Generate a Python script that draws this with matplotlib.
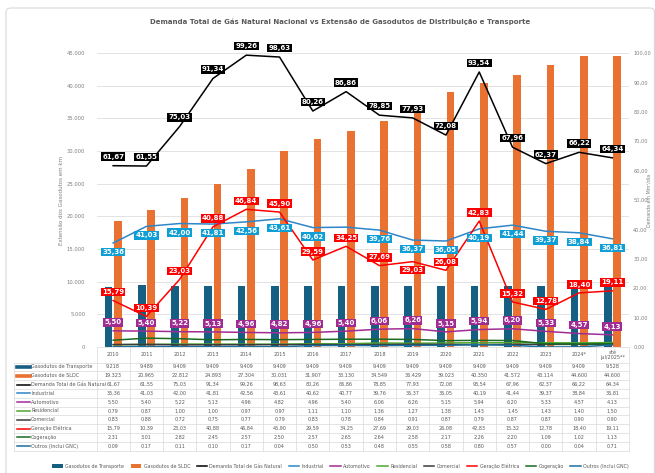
import matplotlib
matplotlib.use("Agg")
import matplotlib.pyplot as plt
from matplotlib.lines import Line2D
from matplotlib.patches import FancyBboxPatch
from matplotlib.ticker import FuncFormatter
import numpy as np

plt.rcParams["font.family"] = ["Liberation Sans Narrow", "DejaVu Sans"]

categories = ["2010", "2011", "2012", "2013", "2014", "2015", "2016", "2017",
              "2018", "2019", "2020", "2021", "2022", "2023", "2024*",
              "até\njul/2025**"]

gasodutos_transporte = [9218, 9489, 9409, 9409, 9409, 9409, 9409, 9409,
                        9409, 9409, 9409, 9409, 9409, 9409, 9409, 9528]
gasodutos_distribuicao = [19323, 20965, 22812, 24893, 27304, 30031, 31907, 33130,
                          34549, 36429, 39023, 40350, 41572, 43114, 44600, 44600]
demanda_total = [61.67, 61.55, 75.03, 91.34, 99.26, 98.63, 80.26, 86.86,
                 78.85, 77.93, 72.08, 93.54, 67.96, 62.37, 66.22, 64.34]
industrial = [35.36, 41.03, 42.00, 41.81, 42.56, 43.61, 40.62, 40.77,
              39.76, 36.37, 36.05, 40.19, 41.44, 39.37, 38.84, 36.81]
automotivo = [5.50, 5.40, 5.22, 5.13, 4.96, 4.82, 4.96, 5.40,
              6.06, 6.26, 5.15, 5.94, 6.20, 5.33, 4.57, 4.13]
residencial = [0.79, 0.87, 1.00, 1.00, 0.97, 0.97, 1.11, 1.10,
               1.36, 1.27, 1.38, 1.43, 1.45, 1.43, 1.40, 1.50]
comercial = [0.83, 0.88, 0.72, 0.75, 0.77, 0.79, 0.83, 0.78,
             0.84, 0.91, 0.87, 0.79, 0.87, 0.87, 0.90, 0.90]
geracao_eletrica = [15.79, 10.39, 23.03, 40.88, 46.84, 45.90, 29.59, 34.25,
                    27.69, 29.03, 26.08, 42.83, 15.32, 12.78, 18.40, 19.11]
cogeracao = [2.31, 3.01, 2.82, 2.45, 2.57, 2.50, 2.57, 2.65,
             2.64, 2.58, 2.17, 2.26, 2.20, 1.09, 1.02, 1.13]
outros = [0.09, 0.17, 0.11, 0.10, 0.17, 0.04, 0.50, 0.53,
          0.48, 0.55, 0.58, 0.80, 0.57, 0.00, 0.04, 0.71]

C_TRANSP = "#156082"
C_DIST = "#E97132"
C_IND_LINE = "#2E86C8"
C_IND_LBL = "#0F9ED5"
C_AUTO = "#A02B93"
C_RES = "#4EA72E"
C_COM = "#3A3A3A"
C_GER = "#FF0000"
C_COG = "#196B24"
C_OUT = "#1C6E9C"
GRAY = "#7F7F7F"

W, H = 655, 473
fig = plt.figure(figsize=(W / 100, H / 100), dpi=100)

# outer chart border
fig.patches.append(FancyBboxPatch((6 / W, -0.05), 0.99, 1 - 8 / H + 0.05,
                                  boxstyle="round,pad=0,rounding_size=0.008",
                                  transform=fig.transFigure, fc="white",
                                  ec="#D9D9D9", lw=0.8, zorder=0))

ax_left, ax_right = 96.5 / W, 629 / W
ax_bot, ax_top = 1 - 347 / H, 1 - 53 / H
ax = fig.add_axes([ax_left, ax_bot, ax_right - ax_left, ax_top - ax_bot])
ax2 = ax.twinx()
ax.set_zorder(1)
ax2.set_zorder(2)
ax.patch.set_visible(False)
ax2.patch.set_visible(False)

x = np.arange(len(categories))
bw = 0.23
ax.bar(x - 0.14, gasodutos_transporte, bw, color=C_TRANSP, zorder=2,
       label="Gasodutos de Transporte")
ax.bar(x + 0.14, gasodutos_distribuicao, bw, color=C_DIST, zorder=2,
       label="Gasodutos de SLDC")

ax.set_xlim(-0.5, len(categories) - 0.5)
ax.set_ylim(0, 45000)
ax.set_yticks(np.arange(0, 45001, 5000))
ax.yaxis.set_major_formatter(FuncFormatter(lambda v, p: f"{int(v):,}".replace(",", ".")))
ax.grid(axis="y", color="#E3E3E3", lw=0.7, zorder=0)
ax.set_xticks([])
for s in ax.spines.values():
    s.set_visible(False)
for s in ax2.spines.values():
    s.set_visible(False)
ax.tick_params(axis="y", length=0, labelsize=3.8, labelcolor=GRAY, pad=8)
ax.set_ylabel("Extensão dos Gasodutos em km", fontsize=4, color=GRAY, labelpad=2)

ax2.set_ylim(0, 100)
ax2.set_yticks(np.arange(0, 101, 10))
ax2.yaxis.set_major_formatter(FuncFormatter(lambda v, p: f"{v:.2f}".replace(".", ",")))
ax2.tick_params(axis="y", length=0, labelsize=3.6, labelcolor=GRAY, pad=3)
ax2.set_ylabel("Demanda em Mm³/dia", fontsize=3.4, color=GRAY, rotation=90, va="center")
ax2.yaxis.set_label_coords((649 - 96.5) / (629 - 96.5), 0.5)

lines = [
    (demanda_total, "black", "Demanda Total de Gás Natural"),
    (industrial, C_IND_LINE, "Industrial"),
    (automotivo, C_AUTO, "Automotivo"),
    (residencial, C_RES, "Residencial"),
    (comercial, C_COM, "Comercial"),
    (geracao_eletrica, C_GER, "Geração Elétrica"),
    (cogeracao, C_COG, "Cogeração"),
    (outros, C_OUT, "Outros (Inclui GNC)"),
]
for vals, col, name in lines:
    ax2.plot(x, vals, color=col, lw=1.1, label=name, zorder=3)


def labels(vals, fc, dy, skip=(), flip=()):
    for i, v in enumerate(vals):
        if i in skip:
            continue
        off = -dy if i in flip else dy
        ax2.annotate(f"{v:.2f}".replace(".", ","), (x[i], v),
                     xytext=(0, off), textcoords="offset points",
                     ha="center", va="center", fontsize=5, fontweight="bold",
                     color="white", zorder=5,
                     bbox=dict(boxstyle="square,pad=0.18", fc=fc, ec="none"))


labels(industrial, C_IND_LBL, -6.5, skip=(7,))
labels(automotivo, C_AUTO, 6)
labels(demanda_total, "black", 6.5)
labels(geracao_eletrica, C_GER, 6, flip=(9,))

fig.text(340 / W, 1 - 22 / H,
         "Demanda Total de Gás Natural Nacional vs Extensão de Gasodutos de Distribuição e Transporte",
         ha="center", va="center", fontsize=5.0, fontweight="bold", color="#595959")

# data table under the chart
col_w = (ax_right - ax_left) / len(categories)
tab_left = 14 / W
y_top = 347 / H
y_head = 362.5 / H
row_h = 8.8 / H
rows = [
    ("Gasodutos de Transporte", C_TRANSP, "bar",
     [f"{v:,}".replace(",", ".") for v in gasodutos_transporte]),
    ("Gasodutos de SLDC", C_DIST, "bar",
     [f"{v:,}".replace(",", ".") for v in gasodutos_distribuicao]),
]
for vals, col, name in lines:
    rows.append((name, col, "line", [f"{v:.2f}".replace(".", ",") for v in vals]))

grid_kw = dict(color="#D9D9D9", lw=0.5, transform=fig.transFigure)
y_bottom = y_head + row_h * len(rows)
fig.add_artist(Line2D([ax_left, ax_right], [1 - y_top, 1 - y_top], **grid_kw))
for k in range(len(rows) + 1):
    yy = 1 - (y_head + k * row_h)
    fig.add_artist(Line2D([tab_left, ax_right], [yy, yy], **grid_kw))
for i in range(len(categories) + 1):
    xx = ax_left + i * col_w
    fig.add_artist(Line2D([xx, xx], [1 - y_top, 1 - y_bottom], **grid_kw))
fig.add_artist(Line2D([tab_left, tab_left], [1 - y_head, 1 - y_bottom], **grid_kw))

for i, c in enumerate(categories):
    fig.text(ax_left + (i + 0.5) * col_w, 1 - (y_top + y_head) / 2, c,
             ha="center", va="center", fontsize=3.5, color="#595959", linespacing=1.0)

for k, (name, col, kind, strs) in enumerate(rows):
    yc = 1 - (y_head + (k + 0.5) * row_h)
    lw = 2.6 if kind == "bar" else 1.1
    fig.add_artist(Line2D([17 / W, 30 / W], [yc, yc], color=col, lw=lw,
                          transform=fig.transFigure))
    fig.text(31 / W, yc, name, ha="left", va="center", fontsize=3.5, color="#595959")
    for i, s in enumerate(strs):
        fig.text(ax_left + (i + 0.5) * col_w, yc, s, ha="center", va="center",
                 fontsize=3.5, color="#595959")

# bottom legend
h1, l1 = ax.get_legend_handles_labels()
h2, l2 = ax2.get_legend_handles_labels()
fig.legend(h1 + h2, l1 + l2, ncol=10, loc="center", bbox_to_anchor=(0.52, 1 - 466 / H),
           fontsize=3.4, frameon=False, handlelength=2.2, handletextpad=0.5,
           columnspacing=1.4, labelcolor="#595959")

fig.savefig("out.png", dpi=100)
